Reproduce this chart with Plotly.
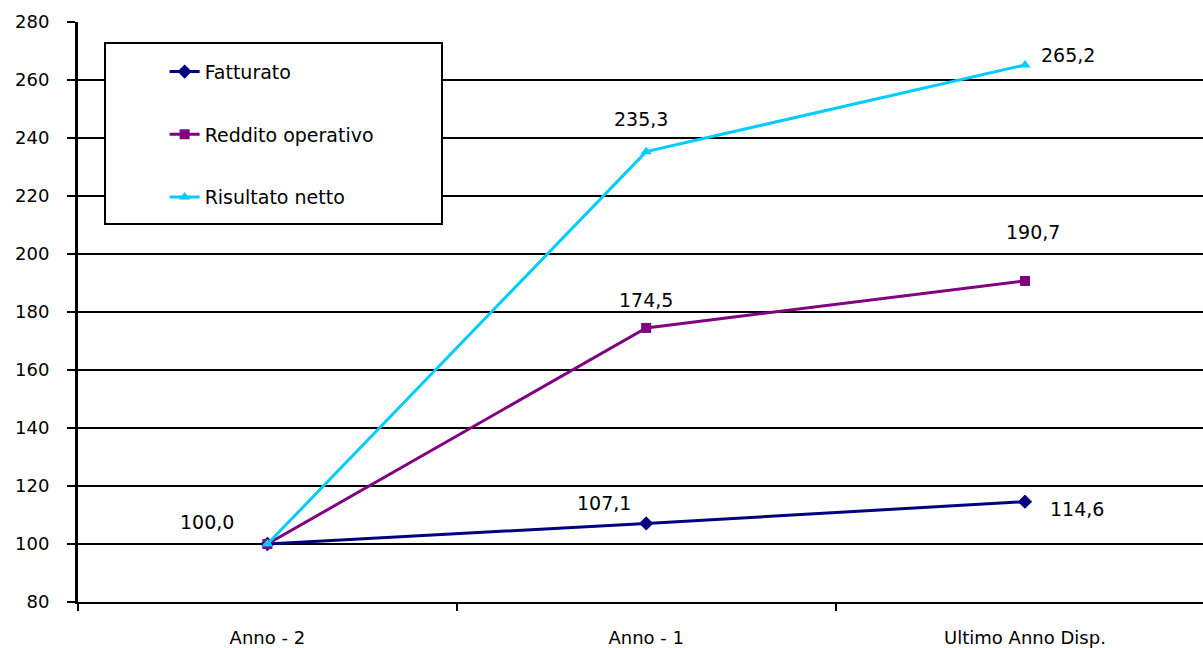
import plotly.graph_objects as go

categories = ["Anno - 2", "Anno - 1", "Ultimo Anno Disp."]
fatturato = [100.0, 107.1, 114.6]
reddito_operativo = [100.0, 174.5, 190.7]
risultato_netto = [100.0, 235.3, 265.2]
y_ticks = [80, 100, 120, 140, 160, 180, 200, 220, 240, 260, 280]

FONT = "DejaVu Sans"

series = [
    ("Fatturato", fatturato, "#000080", "diamond", 11),
    ("Reddito operativo", reddito_operativo, "#800080", "square", 10),
    ("Risultato netto", risultato_netto, "#00CCFF", "triangle-up", 10),
]

fig = go.Figure()
for i, (name, vals, color, symbol, msize) in enumerate(series):
    fig.add_trace(go.Scatter(
        x=categories, y=vals, name=name, mode="lines+markers",
        line=dict(color=color, width=3),
        marker=dict(symbol=symbol, size=msize, color=color),
        legendgroup=f"g{i}",
    ))


def fmt(v):
    return f"{v:.1f}".replace(".", ",")


# label offsets (pixels) per series/point
offsets = {
    "Fatturato": [(-60, 22), (-42, 20), (52, -7)],
    "Reddito operativo": [None, (0, 28), (8, 49)],
    "Risultato netto": [None, (-5, 33), (43, 10)],
}
annotations = []
for name, vals, color, symbol, msize in series:
    for j, v in enumerate(vals):
        off = offsets[name][j]
        if off is None:
            continue
        annotations.append(dict(
            x=categories[j], y=v, xref="x", yref="y", text=fmt(v),
            showarrow=False, xshift=off[0], yshift=off[1],
            font=dict(family=FONT, size=19, color="#000000"),
        ))

fig.update_layout(
    width=1203, height=648,
    margin=dict(l=78, r=0, t=22, b=46),
    paper_bgcolor="white", plot_bgcolor="white",
    font=dict(family=FONT, color="#000000"),
    annotations=annotations,
    showlegend=True,
    legend=dict(
        x=0.077, y=0.947, xanchor="left", yanchor="top",
        bgcolor="rgba(0,0,0,0)", borderwidth=0,
        font=dict(family=FONT, size=19, color="#000000"),
        traceorder="grouped", tracegroupgap=35,
    ),
    shapes=[dict(
        type="rect", xref="paper", yref="paper",
        x0=(105 - 78) / 1125, x1=(442 - 78) / 1125,
        y0=(602 - 224) / 580, y1=(602 - 43) / 580,
        line=dict(color="#000000", width=2), fillcolor="white", layer="above",
    )],
)

fig.update_xaxes(
    type="category", range=[-0.5, 2.47],
    showgrid=False, showline=True, linecolor="#000000", linewidth=2,
    ticks="outside", tickson="boundaries", ticklen=7, tickwidth=2, tickcolor="#000000",
    tickfont=dict(family=FONT, size=18, color="#000000"),
    ticklabelstandoff=18,
)
fig.update_yaxes(
    range=[80, 280], tickvals=y_ticks,
    showgrid=True, gridcolor="#000000", gridwidth=2,
    showline=True, linecolor="#000000", linewidth=3,
    ticks="outside", ticklen=8, tickwidth=2, tickcolor="#000000",
    tickfont=dict(family=FONT, size=18, color="#000000"),
    ticklabelstandoff=14,
    zeroline=False,
)

fig.write_html("out.html")
